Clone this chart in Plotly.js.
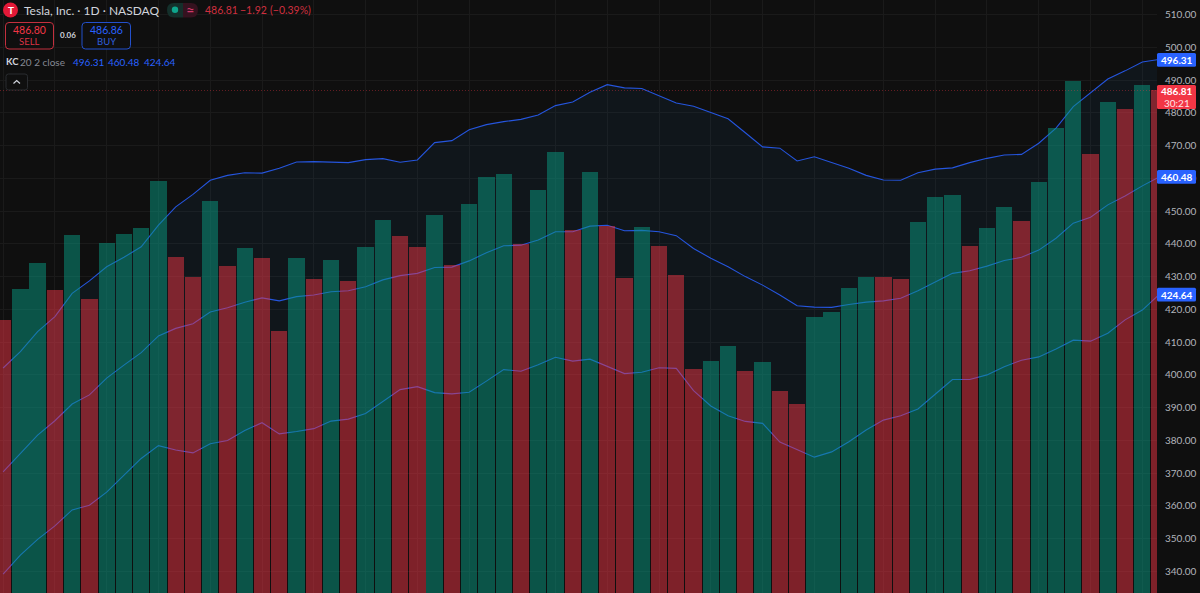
<!DOCTYPE html>
<html><head><meta charset="utf-8">
<script src="https://cdn.plot.ly/plotly-3.0.1.min.js"></script>
<style>html,body{margin:0;padding:0;background:#0f0f0f;overflow:hidden}#c{width:1200px;height:593px}</style>
</head><body><div id="c"></div>
<script>
// bar tops (price) and direction: u = green, d = red
const barValues=[416.7,426.1,434.1,425.9,442.8,423.2,440.3,443.0,444.7,459.2,436.0,429.8,453.2,433.1,438.6,435.6,413.5,435.8,429.3,435.1,428.8,439.1,447.4,442.5,438.9,448.8,433.5,452.2,460.4,461.4,439.9,456.3,468.1,444.2,461.9,445.6,429.6,445.1,439.3,430.4,401.9,404.3,408.9,401.2,403.8,395.1,391.0,417.6,419.2,426.5,429.9,429.9,429.2,446.7,454.3,454.9,439.3,444.9,451.2,446.9,458.8,475.3,489.7,467.3,483.2,481.1,488.5,486.81];
const barDirections=['d','u','u','d','u','d','u','u','u','u',
 'd','d','u','d','u','d','d','u','d','u',
 'd','u','u','d','d','u','d','u','u','u',
 'd','u','u','d','u','d','d','u','d','d',
 'd','u','u','d','u','d','d','u','u','u',
 'u','d','d','u','u','u','d','u','u','d',
 'u','u','u','d','u','d','u','d'];
const upperBand=[402.1,407.1,413.2,417.8,424.9,428.7,433.0,435.9,439.1,445.7,451.3,455.1,459.4,460.9,461.7,461.6,463.1,465.0,465.1,464.9,464.8,465.7,466.0,464.9,465.6,470.9,471.5,474.8,476.4,477.3,478.0,479.3,482.2,483.3,486.3,488.6,487.6,487.4,485.1,483.0,482.0,480.2,478.2,473.9,469.6,469.2,465.3,466.6,464.8,463.1,460.9,459.5,459.4,461.7,462.8,463.2,464.8,466.1,467.1,467.3,470.7,475.3,481.9,486.1,490.3,492.8,495.5,496.31];
const middleBand=[370.4,376.0,381.6,386.0,391.1,393.9,399.0,403.0,406.8,411.9,414.2,415.6,419.2,420.5,422.2,423.5,422.6,423.9,424.4,425.4,425.7,426.9,429.0,430.3,431.0,432.8,432.9,434.8,437.3,439.4,439.6,441.2,443.7,443.7,445.4,445.7,444.0,444.1,443.7,442.5,438.6,435.6,433.0,430.0,427.4,424.4,421.1,420.7,420.6,421.5,422.2,422.6,423.4,425.7,428.4,431.0,431.8,433.2,434.9,435.9,438.1,441.7,446.3,448.1,451.9,454.6,457.7,460.48];
const lowerBand=[339.2,345.0,349.8,353.9,358.8,360.2,364.2,369.4,374.5,378.4,377.1,376.2,379.0,380.0,383.0,385.4,382.0,382.7,383.6,385.9,386.5,388.2,391.8,395.5,396.4,394.6,394.2,394.7,398.1,401.6,401.1,403.1,405.4,404.2,404.8,402.5,400.4,400.8,402.2,402.0,395.2,390.5,387.5,385.8,385.2,379.5,377.1,374.9,376.5,379.6,383.2,386.2,387.5,389.6,394.1,398.6,398.6,400.0,402.5,404.5,405.5,407.9,410.6,410.3,412.7,416.8,419.8,424.64];
const priceTicks=[340,350,360,370,380,390,400,410,420,430,440,450,460,470,480,490,500,510];
const timeGrid=[0,3,6,9,12,15,18,21,24,27,32,35,38,41,44,47,51,54,57,60,63,66];
const lastPrice=486.81;

const idx=barValues.map((_,i)=>i);
const W=1157,H=593,F='Lato, "Noto Sans", sans-serif';
const BLUE='#2962ff',RED='#f23645',LINE='#2555dd';
const yRange=[333.43,514.43],xRange=[-0.18,66.85];
const px=x=>x/W, py=y=>1-y/H;

function note(x,y,text,size,color,anchor,weight){
  return {xref:'paper',yref:'paper',x:px(x),y:py(y),text:text,showarrow:false,xanchor:anchor||'left',yanchor:'middle',
    font:{family:F,size:size,color:color,weight:weight||400},borderpad:0,borderwidth:0};
}
function rr(x0,y0,x1,y1,r){ // rounded rectangle path in paper units
  const X=px,Y=py;
  return `M${X(x0+r)},${Y(y0)} L${X(x1-r)},${Y(y0)} Q${X(x1)},${Y(y0)} ${X(x1)},${Y(y0+r)} L${X(x1)},${Y(y1-r)} Q${X(x1)},${Y(y1)} ${X(x1-r)},${Y(y1)} L${X(x0+r)},${Y(y1)} Q${X(x0)},${Y(y1)} ${X(x0)},${Y(y1-r)} L${X(x0)},${Y(y0+r)} Q${X(x0)},${Y(y0)} ${X(x0+r)},${Y(y0)} Z`;
}
function box(x0,y0,x1,y1,r,fill,line,lw){
  return {type:'path',xref:'paper',yref:'paper',path:rr(x0,y0,x1,y1,r),fillcolor:fill,line:{color:line||fill,width:line?(lw||1):0},layer:'above'};
}
function circ(cx,cy,r,fill){
  return {type:'circle',xref:'paper',yref:'paper',x0:px(cx-r),x1:px(cx+r),y0:py(cy+r),y1:py(cy-r),fillcolor:fill,line:{width:0},layer:'above'};
}

const traces=[
 {x:idx,y:upperBand,type:'scatter',mode:'lines',line:{color:LINE,width:1.1},hoverinfo:'skip'},
 {x:idx,y:lowerBand,type:'scatter',mode:'lines',line:{color:LINE,width:1.1},fill:'tonexty',fillcolor:'rgba(30,140,230,0.055)',hoverinfo:'skip'},
 {x:idx,y:middleBand,type:'scatter',mode:'lines',line:{color:LINE,width:1.1},hoverinfo:'skip'},
 {x:idx,y:barValues,type:'bar',yaxis:'y2',width:0.945,hoverinfo:'skip',
  marker:{color:barDirections.map(d=>d==='u'?'rgba(8,153,129,0.5)':'rgba(242,54,69,0.49)'),line:{width:0}}}
];

const shapes=[
 {type:'line',xref:'paper',yref:'y',x0:0,x1:1,y0:lastPrice,y1:lastPrice,line:{color:'rgba(242,54,69,0.38)',width:1,dash:'1px,2px'},layer:'above'},
 circ(10.5,10,7.5,'#e31937'),
 {type:'path',xref:'paper',yref:'paper',path:`M${px(174)},${py(3)} L${px(183)},${py(3)} L${px(183)},${py(17.5)} L${px(174)},${py(17.5)} Q${px(167)},${py(17.5)} ${px(167)},${py(10)} Q${px(167)},${py(3)} ${px(174)},${py(3)} Z`,fillcolor:'#14302b',line:{width:0},layer:'above'},
 {type:'path',xref:'paper',yref:'paper',path:`M${px(183)},${py(3)} L${px(191)},${py(3)} Q${px(198)},${py(3)} ${px(198)},${py(10)} Q${px(198)},${py(17.5)} ${px(191)},${py(17.5)} L${px(183)},${py(17.5)} Z`,fillcolor:'#35121f',line:{width:0},layer:'above'},
 circ(175,9.7,3.2,'#0ea58c'),
 box(5.5,22.5,53.5,49,3.5,'#0f0f0f','#c3303e',1),
 box(82,22.5,130.5,49,3.5,'#0f0f0f','#2350cc',1),
 box(6,74,27.5,90,2.5,'#0f0f0f','#2a2c30',1),
 {type:'path',xref:'paper',yref:'paper',path:`M${px(13.5)},${py(83.5)} L${px(16.7)},${py(80.5)} L${px(20)},${py(83.5)}`,line:{color:'#d1d4dc',width:1.2},layer:'above'},
 box(1157,53,1196,66.7,1.5,BLUE),
 box(1157,170,1196,183.7,1.5,BLUE),
 box(1157,287.8,1196,301.5,1.5,BLUE),
 box(1157,85,1196,109,1.5,RED)
];

const annotations=[
 note(10.6,10,'T',10,'#ffffff','center',700),
 note(24,10.5,'Tesla, Inc. · 1D · NASDAQ',12,'#d1d4dc'),
 note(190,10,'≈',15,'#d1396a','center'),
 note(205,10,'486.81',10.5,'#cf2f3f'),
 note(240,10,'−1.92',10.5,'#cf2f3f'),
 note(270,10,'(−0.39%)',10.5,'#cf2f3f'),
 note(29.5,30.5,'486.80',10.5,RED,'center'),
 note(29.5,41.5,'SELL',9.5,'#dd3344','center'),
 note(67.5,35.5,'0.06',8,'#d1d4dc','center',700),
 note(106.3,30.5,'486.86',10.5,BLUE,'center'),
 note(106.3,41.5,'BUY',9.5,'#2f5fdd','center'),
 note(6,62,'KC',9.5,'#d1d4dc',null,700),
 note(20,62,'20 2 close',10,'#868993'),
 note(73,62,'496.31',10,BLUE),
 note(108,62,'460.48',10,BLUE),
 note(144,62,'424.64',10,BLUE),
 note(1176.5,60,'496.31',10,'#ffffff','center',700),
 note(1176.5,177,'460.48',10,'#ffffff','center',700),
 note(1176.5,294.7,'424.64',10,'#ffffff','center',700),
 note(1176.5,91,'486.81',10,'#ffffff','center',700),
 note(1176.5,103,'30:21',10,'#ffe3e6','center')
];

const layout={
 width:1200,height:593,margin:{l:0,r:43,t:0,b:0,pad:0},
 paper_bgcolor:'#0f0f0f',plot_bgcolor:'#0f0f0f',showlegend:false,hovermode:false,
 font:{family:F},
 xaxis:{range:xRange,showticklabels:false,ticks:'',tickmode:'array',tickvals:timeGrid,showgrid:true,gridcolor:'#1a1a1a',gridwidth:1,zeroline:false,showline:false},
 yaxis:{range:yRange,side:'right',tickmode:'array',tickvals:priceTicks,ticktext:priceTicks.map(v=>v.toFixed(2)),
   tickfont:{family:F,size:10,color:'#b2b5bc'},ticks:'outside',ticklen:5,tickcolor:'rgba(0,0,0,0)',
   showgrid:true,gridcolor:'#1a1a1a',gridwidth:1,zeroline:false,showline:false},
 yaxis2:{range:yRange,overlaying:'y',side:'right',showticklabels:false,ticks:'',showgrid:false,zeroline:false,showline:false},
 bargap:0,shapes:shapes,annotations:annotations
};
Plotly.newPlot('c',traces,layout,{displayModeBar:false,staticPlot:true,responsive:false});
</script></body></html>
